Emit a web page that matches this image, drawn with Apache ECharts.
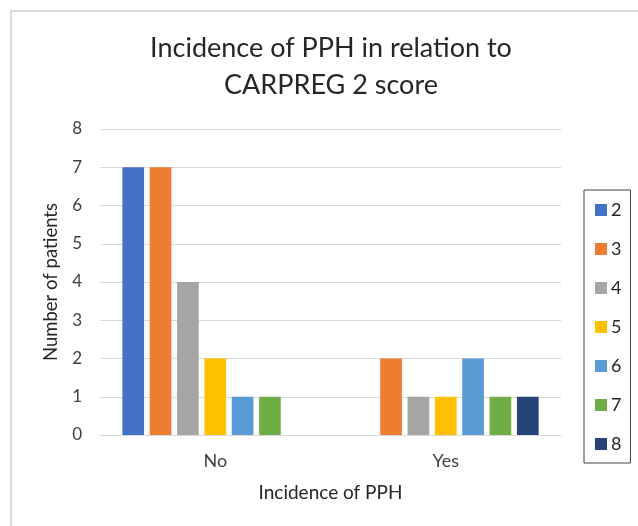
<!DOCTYPE html>
<html>
<head>
<meta charset="utf-8">
<script src="https://cdn.jsdelivr.net/npm/echarts@6/dist/echarts.min.js"></script>
<style>html,body{margin:0;padding:0;background:#fff;}#c{width:638px;height:526px;}</style>
</head>
<body>
<div id="c"></div>
<script>
var categories = ['No', 'Yes'];
var scores = ['2', '3', '4', '5', '6', '7', '8'];
var noCounts = [7, 7, 4, 2, 1, 1, 0];
var yesCounts = [0, 2, 1, 1, 2, 1, 1];
var colors = ['#4472C4', '#ED7D31', '#A5A5A5', '#FFC000', '#5B9BD5', '#70AD47', '#264478'];

var FONT = 'Lato';
var series = scores.map(function (s, i) {
  return {
    name: s,
    type: 'bar',
    data: [noCounts[i], yesCounts[i]],
    barWidth: 21.7,
    barGap: '26%',
    itemStyle: { color: colors[i] }
  };
});

var chart = echarts.init(document.getElementById('c'), null, { renderer: 'canvas' });
chart.setOption({
  animation: false,
  color: colors,
  graphic: [
    { type: 'line', shape: { x1: 10, y1: 11, x2: 638, y2: 11 }, style: { stroke: '#d9d9d9', lineWidth: 2 } },
    { type: 'line', shape: { x1: 11, y1: 10, x2: 11, y2: 526 }, style: { stroke: '#d9d9d9', lineWidth: 2 } }
  ],
  title: {
    text: 'Incidence of PPH in relation to\nCARPREG 2 score',
    left: 326,
    top: 25,
    textAlign: 'center',
    textStyle: { fontFamily: FONT, fontSize: 27, fontWeight: 'normal', color: '#262626', lineHeight: 37 }
  },
  legend: {
    orient: 'vertical',
    left: 584,
    top: 190,
    icon: 'rect',
    itemWidth: 12,
    itemHeight: 12,
    itemGap: 21,
    padding: [11, 9, 10, 11],
    borderColor: '#404040',
    borderWidth: 1,
    textStyle: { fontFamily: FONT, fontSize: 18, color: '#262626', lineHeight: 16, padding: [0, 0, 0, -1] },
    data: scores
  },
  grid: { left: 100, top: 129, width: 461, height: 306 },
  xAxis: {
    type: 'category',
    data: categories,
    name: 'Incidence of PPH',
    nameLocation: 'middle',
    nameGap: 48,
    nameTextStyle: { fontFamily: FONT, fontSize: 19, color: '#262626' },
    axisLine: { lineStyle: { color: '#d9d9d9' } },
    axisTick: { show: false },
    axisLabel: { fontFamily: FONT, fontSize: 18, color: '#404040', margin: 17 }
  },
  yAxis: {
    type: 'value',
    min: 0,
    max: 8,
    interval: 1,
    name: 'Number of patients',
    nameLocation: 'middle',
    nameGap: 39,
    nameTextStyle: { fontFamily: FONT, fontSize: 18.5, color: '#262626' },
    axisLine: { show: false },
    axisTick: { show: false },
    axisLabel: { fontFamily: FONT, fontSize: 17, color: '#404040', margin: 18 },
    splitLine: { lineStyle: { color: '#d9d9d9' } }
  },
  series: series
});
</script>
</body>
</html>
